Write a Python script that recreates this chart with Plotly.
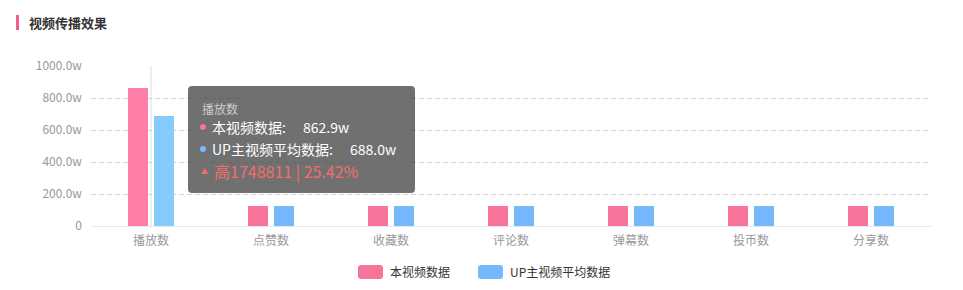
import plotly.graph_objects as go

categories = ["播放数", "点赞数", "收藏数", "评论数", "弹幕数", "投币数", "分享数"]
video_values = [862.9, 125, 125, 125, 125, 125, 125]
avg_values = [688.0, 125, 125, 125, 125, 125, 125]
series_names = ["本视频数据", "UP主视频平均数据"]
y_tickvals = [0, 200, 400, 600, 800, 1000]
y_ticktext = ["0", "200.0w", "400.0w", "600.0w", "800.0w", "1000.0w"]
tooltip_title = "播放数"
tooltip_lines = ["本视频数据:", "UP主视频平均数据:"]
tooltip_values = ["862.9w", "688.0w"]
tooltip_diff = "高1748811 | 25.42%"

PINK = "#f6739a"
BLUE = "#75b8fe"
PINK_HI = "#ff7fa7"
BLUE_HI = "#87cafd"
FONT = "Noto Sans CJK SC"

W, H = 963, 290
L, R, T, B = 91, 931, 66, 226


def px(x):
    return (x - L) / (R - L)


def py(y):
    return (B - y) / (B - T)


def rrect(x0, y0, x1, y1, r):
    rx = r / (R - L)
    ry = r / (B - T)
    X0, X1 = px(x0), px(x1)
    Y0, Y1 = py(y1), py(y0)  # bottom, top in paper
    return (f"M {X0+rx},{Y0} L {X1-rx},{Y0} Q {X1},{Y0} {X1},{Y0+ry} "
            f"L {X1},{Y1-ry} Q {X1},{Y1} {X1-rx},{Y1} L {X0+rx},{Y1} "
            f"Q {X0},{Y1} {X0},{Y1-ry} L {X0},{Y0+ry} Q {X0},{Y0} {X0+rx},{Y0} Z")


fig = go.Figure()
fig.add_trace(go.Bar(
    x=categories, y=video_values, name=series_names[0],
    marker=dict(color=[PINK_HI] + [PINK] * (len(categories) - 1), line=dict(width=0)),
))
fig.add_trace(go.Bar(
    x=categories, y=avg_values, name=series_names[1],
    marker=dict(color=[BLUE_HI] + [BLUE] * (len(categories) - 1), line=dict(width=0)),
))

shapes = []
annotations = []

# axis pointer line
shapes.append(dict(type="line", xref="x", yref="paper", x0=categories[0], x1=categories[0],
                   y0=0, y1=1, line=dict(color="#dcdcdc", width=1), layer="below"))

# title
shapes.append(dict(type="rect", xref="paper", yref="paper", x0=px(16), x1=px(19),
                   y0=py(30), y1=py(15), fillcolor="#f25d8e", line=dict(width=0)))
annotations.append(dict(xref="paper", yref="paper", x=px(27), y=py(22.5), xanchor="left",
                        yanchor="middle", showarrow=False,
                        text="<b>视频传播效果</b>", font=dict(size=13, color="#333", family=FONT)))

# tooltip
shapes.append(dict(type="path", xref="paper", yref="paper", path=rrect(188, 86, 415, 193, 4),
                   fillcolor="rgba(80,80,80,0.82)", line=dict(width=0)))
annotations.append(dict(xref="paper", yref="paper", x=px(200), y=py(108), xanchor="left",
                        yanchor="middle", showarrow=False, text=tooltip_title,
                        font=dict(size=12, color="#cccccc", family=FONT)))
dot_colors = [PINK, BLUE]
line_y = [127, 149]
value_x = [301, 348]
for i in range(2):
    shapes.append(dict(type="circle", xref="paper", yref="paper",
                       x0=px(200), x1=px(206), y0=py(line_y[i] + 3), y1=py(line_y[i] - 3),
                       fillcolor=dot_colors[i], line=dict(width=0)))
    annotations.append(dict(xref="paper", yref="paper", x=px(210), y=py(line_y[i]), xanchor="left",
                            yanchor="middle", showarrow=False, text=tooltip_lines[i],
                            font=dict(size=14, color="#ffffff", family=FONT)))
    annotations.append(dict(xref="paper", yref="paper", x=px(value_x[i]), y=py(line_y[i]), xanchor="left",
                            yanchor="middle", showarrow=False, text=tooltip_values[i],
                            font=dict(size=14, color="#ffffff", family=FONT)))
shapes.append(dict(type="path", xref="paper", yref="paper",
                   path=f"M {px(201)},{py(174)} L {px(208.5)},{py(174)} L {px(204.75)},{py(168)} Z",
                   fillcolor="#f56c6c", line=dict(width=0)))
annotations.append(dict(xref="paper", yref="paper", x=px(212), y=py(171), xanchor="left",
                        yanchor="middle", showarrow=False, text=tooltip_diff,
                        font=dict(size=16, color="#f56c6c", family=FONT)))

# legend
leg_rects = [(358, 383), (478, 503)]
leg_text_x = [388, 508]
for i in range(2):
    shapes.append(dict(type="path", xref="paper", yref="paper",
                       path=rrect(leg_rects[i][0], 265, leg_rects[i][1], 279, 3),
                       fillcolor=dot_colors[i], line=dict(width=0)))
    annotations.append(dict(xref="paper", yref="paper", x=px(leg_text_x[i]), y=py(271.5), xanchor="left",
                            yanchor="middle", showarrow=False, text=series_names[i],
                            font=dict(size=12, color="#333", family=FONT)))

fig.update_layout(
    width=W, height=H,
    margin=dict(l=L, r=W - R, t=T, b=H - B, pad=0),
    paper_bgcolor="white", plot_bgcolor="white",
    barmode="group", bargap=0.5667, bargroupgap=0.2308,
    showlegend=False,
    font=dict(family=FONT, size=12, color="#999"),
    shapes=shapes, annotations=annotations,
    hovermode=False,
)
fig.update_xaxes(showgrid=False, showline=True, linecolor="#e4e7ed", linewidth=1,
                 ticks="", tickfont=dict(size=12, color="#999", family=FONT),
                 ticklabelstandoff=4, fixedrange=True)
fig.update_yaxes(range=[0, 1000], tickvals=y_tickvals, ticktext=y_ticktext,
                 showgrid=True, gridcolor="#d4d4d4", griddash="5px,3px", gridwidth=1,
                 zeroline=False, showline=False, ticks="",
                 tickfont=dict(size=12, color="#999", family=FONT),
                 ticklabelstandoff=8, fixedrange=True)

fig.write_html("out.html")
